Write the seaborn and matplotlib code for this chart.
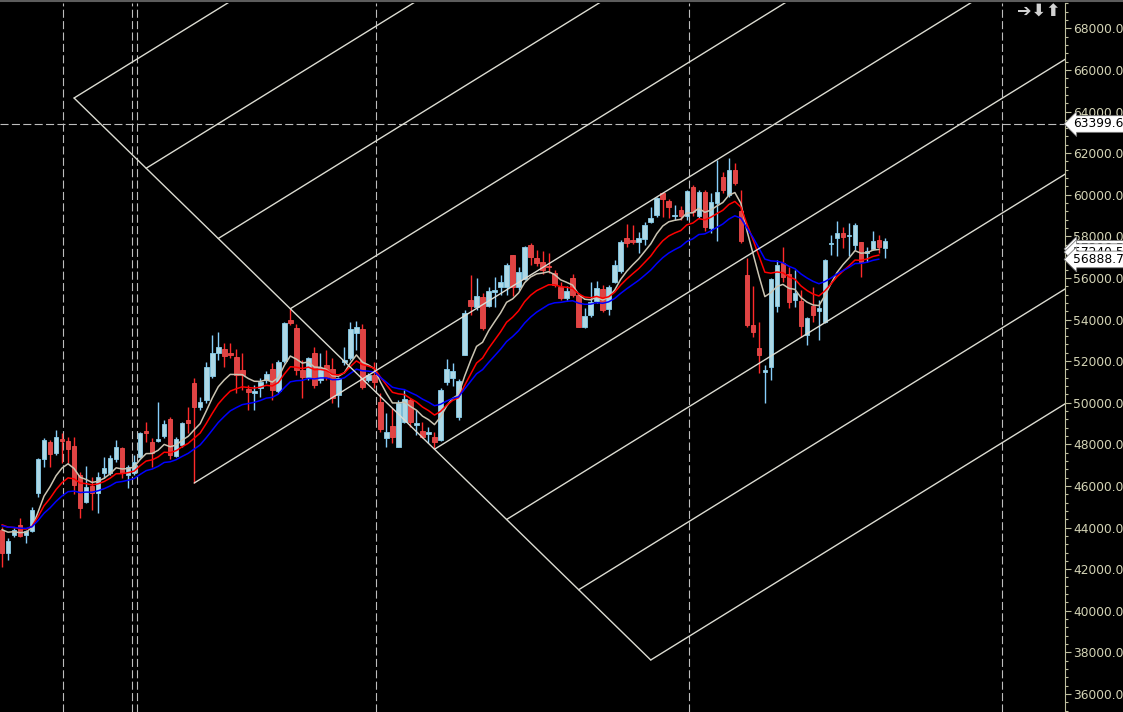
import numpy as np
import pandas as pd
import seaborn as sns
import matplotlib.pyplot as plt
from matplotlib.lines import Line2D
from matplotlib.transforms import blended_transform_factory
from matplotlib.ticker import MultipleLocator, FormatStrFormatter

# candles (one per bar, left to right)
opens = [43883, 42777, 43643, 44124, 43643, 43835, 45662, 47295, 48113, 47584,
         48257, 48161, 47921, 46527, 45229, 45998, 45662, 46623, 46623, 47295,
         47824, 46527, 46623, 47392, 48642, 48113, 48161, 48402, 49218, 47440,
         47969, 49171, 50949, 49796, 50132, 51286, 52391, 52583, 52391, 52199,
         51574, 50661, 50469, 50709, 51093, 51622, 50565, 52007, 53978, 53593,
         51574, 51238, 52391, 51093, 51815, 51622, 50373, 51959, 52150, 53353,
         53545, 51093, 51334, 50036, 48305, 48882, 47873, 49075, 50132, 48930,
         48642, 48498, 48354, 48209, 50997, 51189, 49315, 52295, 54939, 54603,
         55084, 54651, 55324, 55564, 55564, 57102, 55564, 55948, 57583, 56958,
         56766, 56574, 56237, 55564, 55035, 55996, 55180, 53641, 54218, 54891,
         55468, 54506, 55804, 56333, 57919, 57823, 57727, 57871, 58689, 59025,
         60083, 59698, 58977, 59265, 58977, 60371, 58977, 60131, 58400, 59602,
         60852, 59986, 61188, 59217, 56141, 53738, 52632, 51478, 51719, 54651,
         56718, 56189, 54939, 54891, 53257, 54651, 54410, 53882, 57631, 57919,
         58160, 58016, 57583, 57727, 57198, 57390, 57823, 57439]
highs = [44028, 43498, 43979, 44459, 43883, 44989, 47343, 48305, 48209, 48690,
         48546, 48354, 48354, 46671, 46960, 46431, 46671, 47392, 47488, 48209,
         47873, 47008, 47488, 48594, 49075, 48305, 50036, 49171, 49315, 48354,
         49075, 49796, 51189, 50277, 51959, 53257, 53401, 52872, 52872, 52583,
         52391, 50853, 50853, 51189, 51526, 51911, 52055, 53882, 54506, 53786,
         52055, 52199, 52680, 52391, 52535, 52150, 51238, 52680, 53882, 53930,
         53786, 51430, 51959, 50469, 49507, 49748, 50132, 50613, 50228, 49651,
         49075, 48834, 48594, 50709, 52103, 51911, 51141, 54458, 56141, 55996,
         55276, 55564, 56044, 56141, 56718, 57102, 56526, 57535, 57679, 57342,
         57294, 57198, 56381, 55804, 55612, 56189, 55276, 54555, 55804, 55852,
         55660, 55660, 56862, 57823, 58593, 58545, 58208, 58689, 59410, 59890,
         60131, 59794, 59506, 59458, 60227, 60467, 60227, 60227, 60083, 61669,
         61092, 61765, 61524, 60227, 56958, 55612, 53882, 51815, 55996, 56862,
         57487, 56526, 56381, 55420, 54122, 55564, 54939, 56910, 58064, 58737,
         58449, 58641, 58641, 57727, 57487, 58256, 58064, 57919]
lows = [42105, 42441, 43547, 43547, 43258, 43787, 45470, 46912, 46912, 47488,
        47104, 47104, 45614, 44459, 45181, 44844, 44700, 46382, 46527, 47152,
        46382, 45901, 46527, 47343, 48113, 46912, 48113, 48305, 47295, 47392,
        47873, 48546, 46142, 49651, 49988, 51189, 52055, 51719, 52150, 50469,
        50613, 49651, 49651, 50277, 50949, 50132, 50469, 51911, 53738, 51334,
        50228, 51093, 50709, 50949, 51093, 49988, 49796, 51815, 52055, 52535,
        50661, 50997, 50709, 48594, 47873, 48065, 47873, 49027, 48834, 48450,
        48305, 48065, 47824, 48161, 50853, 50805, 49171, 52295, 54218, 54458,
        53497, 54603, 54603, 55180, 55180, 55132, 55420, 55900, 56622, 56574,
        56189, 56237, 55564, 54939, 54939, 55084, 53641, 53593, 54122, 54795,
        54362, 54218, 55756, 56237, 57487, 57631, 57198, 57583, 58641, 58929,
        58929, 58880, 58785, 58785, 58785, 58977, 58881, 58256, 58160, 57775,
        60083, 59890, 60467, 57679, 53641, 53160, 51430, 49988, 51093, 54362,
        55804, 54555, 54603, 53160, 52776, 53882, 53016, 53834, 57102, 57054,
        57438, 57054, 57342, 56045, 56766, 57342, 57198, 56958]
closes = [42777, 43354, 43883, 43595, 43835, 44844, 47295, 48209, 47536, 48354,
          48161, 47776, 46046, 44940, 45950, 45662, 46431, 46863, 47343, 47873,
          46623, 46912, 47152, 48546, 48546, 47584, 48257, 48979, 47488, 48257,
          49027, 49027, 49796, 50036, 51719, 52391, 52680, 52247, 52295, 51334,
          51334, 50517, 50565, 50997, 51382, 50613, 51959, 53834, 53834, 51574,
          51238, 52150, 50853, 51670, 51238, 50228, 51189, 52055, 53545, 53641,
          50757, 51334, 50997, 48738, 48594, 48354, 49988, 50180, 49075, 49027,
          48354, 48594, 48113, 50613, 51622, 51526, 51045, 54314, 54651, 55132,
          53593, 55372, 55420, 55804, 56622, 55564, 56285, 57487, 57006, 56718,
          56381, 56526, 55660, 55035, 55372, 55180, 53641, 54170, 54843, 55516,
          54458, 55564, 56622, 57727, 57679, 57727, 57919, 58545, 58880, 59842,
          59794, 59410, 59025, 58977, 60179, 59169, 60131, 58449, 59650, 60131,
          60227, 61188, 60563, 57775, 53738, 53401, 52295, 51574, 55948, 56622,
          56045, 54843, 55276, 53690, 54074, 54218, 54555, 56862, 57679, 58160,
          57967, 58064, 58545, 56766, 57294, 57775, 57487, 57775]

# moving averages (EMA 8 / 13 / 21) and their level at the first visible bar
ema_periods = [8, 13, 21]
ema_start = [44220, 44360, 44220]
ema_colors = ["#cbc5b3", "#ff0000", "#0000ff"]

# channel tool anchors: (bar, price)
base_anchor = (32, 46142)
diag_start = (12, 64649)
diag_end = (108, 37634)
n_levels = 8

hline_price = 63399.64
vline_bars = [10.2, 21.6, 22.5, 62.3, 114.4, 166.5]
price_labels = [57396.58, 57240.56, 56888.77]

df = pd.DataFrame({"open": opens, "high": highs, "low": lows, "close": closes})
df["bar"] = np.arange(len(df))

sns.set_style("dark", {"axes.facecolor": "black", "figure.facecolor": "black"})
plt.rcParams["font.family"] = ["DejaVu Sans"]
plt.rcParams["lines.scale_dashes"] = False

fig = plt.figure(figsize=(11.23, 7.12), dpi=100)
fig.patch.set_facecolor("black")
ax = fig.add_axes([0, 0, 1065 / 1123, 709 / 712])
ax.set_facecolor("black")

grid_col = "#bdbdbd"
for b in vline_bars:
    ax.axvline(b, color=grid_col, lw=0.8, ls=(0, (5.8, 2.4)), zorder=0)
ax.axhline(hline_price, color=grid_col, lw=0.8, ls=(0, (5.8, 2.4)), zorder=0)

# candles
up = df[df["close"] >= df["open"]]
dn = df[df["close"] < df["open"]]
ax.vlines(up["bar"], up["low"], up["high"], color="#87cefa", lw=1.0, zorder=1)
ax.vlines(dn["bar"], dn["low"], dn["high"], color="#ff2a2a", lw=1.0, zorder=1)
ax.bar(up["bar"], up["close"] - up["open"], bottom=up["open"], width=0.76,
       color="#add8e6", edgecolor="#87ceeb", lw=0.6, zorder=2)
ax.bar(dn["bar"], dn["open"] - dn["close"], bottom=dn["close"], width=0.76,
       color="#e04444", edgecolor="#f04a4a", lw=0.6, zorder=2)

# moving averages
for p, s0, c in zip(ema_periods, ema_start, ema_colors):
    ema = pd.Series([s0] + closes).ewm(span=p, adjust=False).mean().iloc[1:].values
    sns.lineplot(x=df["bar"].values[:-1], y=ema[:-1], ax=ax, color=c, lw=1.1,
                 legend=False, zorder=3)

# channel lines
line_col = "#dcdcd2"
mid_bar = (diag_start[0] + diag_end[0]) / 2
mid_price = (diag_start[1] + diag_end[1]) / 2
slope = (mid_price - base_anchor[1]) / (mid_bar - base_anchor[0])
far = 260
ax.plot([diag_start[0], diag_end[0]], [diag_start[1], diag_end[1]],
        color=line_col, lw=1.0, zorder=4)
for k in range(n_levels + 1):
    bx = diag_start[0] + k / n_levels * (diag_end[0] - diag_start[0])
    by = diag_start[1] + k / n_levels * (diag_end[1] - diag_start[1])
    if k == n_levels // 2:
        bx, by = base_anchor
    ax.plot([bx, far], [by, by + slope * (far - bx)], color=line_col, lw=1.0, zorder=4)

ax.set_xlim(-0.33, 176.96)
ax.set_ylim(35134, 69216)
ax.set_xticks([])
ax.set_xlabel("")
ax.set_ylabel("")

axis_col = "#bfbf9f"
ax.yaxis.tick_right()
ax.yaxis.set_major_locator(MultipleLocator(2000))
ax.yaxis.set_minor_locator(MultipleLocator(400))
ax.yaxis.set_major_formatter(FormatStrFormatter("%.2f"))
ax.tick_params(axis="y", which="major", length=4, width=0.8, color=axis_col,
               labelcolor="#d4d4b6", labelsize=8.8, pad=2, right=True, left=False)
ax.tick_params(axis="y", which="minor", length=2.5, width=0.8, color=axis_col,
               right=True, left=False)
for side in ["left", "top", "bottom"]:
    ax.spines[side].set_visible(False)
ax.spines["right"].set_visible(True)
ax.spines["right"].set_color(axis_col)
ax.spines["right"].set_linewidth(0.8)
ax.grid(False)

# price tags on the scale
tr = blended_transform_factory(ax.transAxes, ax.transData)
for val in [hline_price] + price_labels:
    ax.text(1.0 + 8 / 1065, val, f"{val:.2f}", transform=tr, ha="left", va="center",
            fontsize=8.8, color="black", clip_on=False, zorder=10,
            bbox=dict(boxstyle="larrow,pad=0.15", fc="white", ec="#7a7a7a", lw=0.6))

fig.text(1017 / 1123, 1 - 12 / 712, "➔⬇⬆", fontsize=12.5, fontweight="bold",
         color="#d2d2d2", va="center", ha="left")
fig.add_artist(Line2D([0, 1], [1 - 1.2 / 712] * 2, transform=fig.transFigure,
                      color="#5c5c5c", lw=1.5))

fig.savefig("out.png", dpi=100, facecolor="black")
